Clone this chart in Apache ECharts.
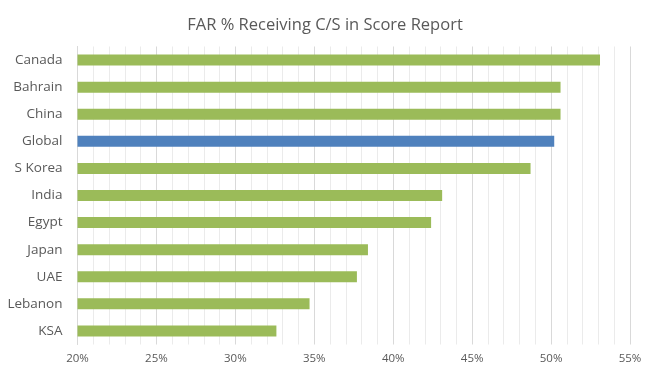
<!DOCTYPE html>
<html><head><meta charset="utf-8">
<script src="https://cdn.jsdelivr.net/npm/echarts@6/dist/echarts.min.js"></script>
<style>html,body{margin:0;padding:0;background:#fff}#c{width:650px;height:380px}</style>
</head><body><div id="c"></div>
<script>
var categories = ["Canada","Bahrain","China","Global","S Korea","India","Egypt","Japan","UAE","Lebanon","KSA"];
var values = [53.1, 50.6, 50.6, 50.2, 48.7, 43.1, 42.4, 38.4, 37.7, 34.7, 32.6];
var highlight = "Global";
var xTicks = [20, 25, 30, 35, 40, 45, 50, 55];

var chart = echarts.init(document.getElementById('c'));
chart.setOption({
  animation: false,
  title: {
    text: "FAR % Receiving C/S in Score Report",
    left: 'center', top: 12,
    textStyle: {fontFamily: 'Open Sans', fontWeight: 'normal', fontSize: 16.5, color: '#595959'}
  },
  grid: {left: 77.5, right: 20, top: 46.5, bottom: 35.5},
  xAxis: {
    type: 'value', min: xTicks[0], max: xTicks[xTicks.length-1], interval: 5,
    axisLine: {show: false}, axisTick: {show: false},
    axisLabel: {formatter: '{value}%', color: '#595959', fontSize: 11.5, fontFamily: 'Open Sans', margin: 8},
    splitLine: {show: true, lineStyle: {color: '#d9d9d9', width: 1}},
    minorTick: {show: false, splitNumber: 5},
    minorSplitLine: {show: true, lineStyle: {color: '#ebebeb', width: 1}}
  },
  yAxis: {
    type: 'category', data: categories, inverse: true,
    axisLine: {show: true, lineStyle: {color: '#d9d9d9'}},
    axisTick: {show: false},
    axisLabel: {color: '#595959', fontSize: 13.5, fontFamily: 'Open Sans', margin: 15}
  },
  series: [{
    type: 'bar',
    barWidth: 11,
    data: values.map(function(v, i){
      return {value: v, itemStyle: {color: categories[i] === highlight ? '#4F81BD' : '#9BBB59'}};
    })
  }]
});
</script></body></html>
